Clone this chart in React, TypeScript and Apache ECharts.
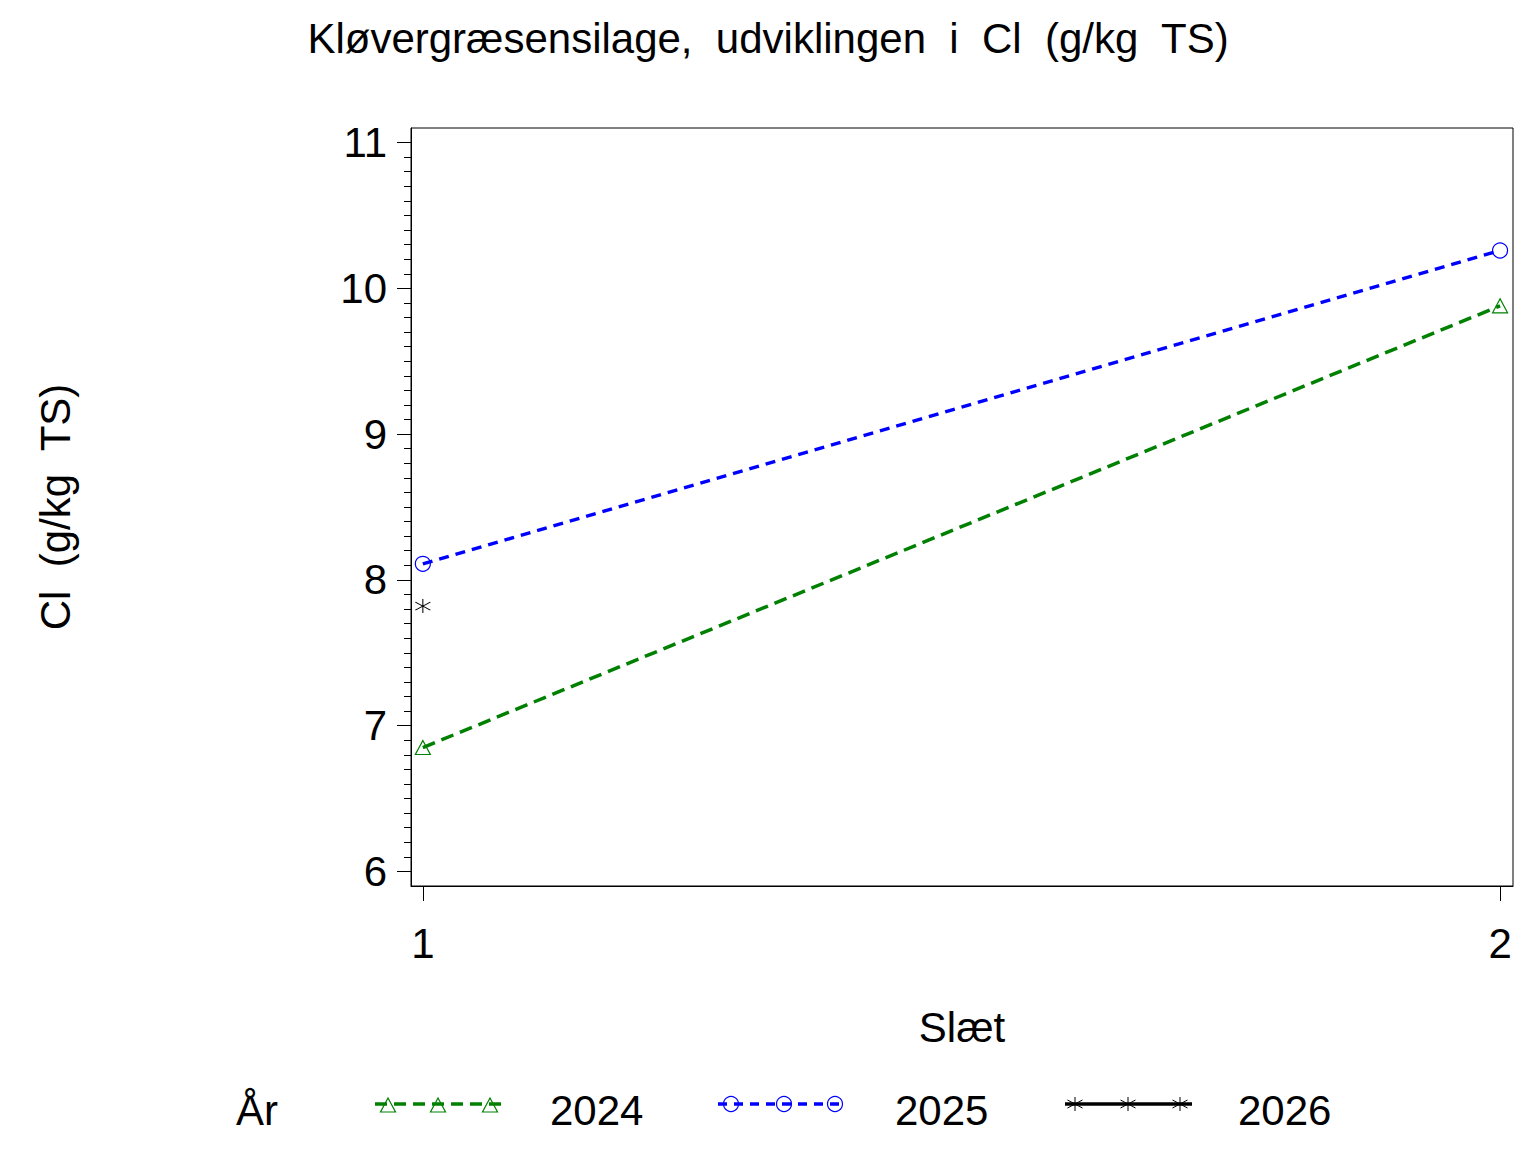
import React, { useEffect, useRef } from "react";
import * as echarts from "echarts";

const titleText = "Kløvergræsensilage,  udviklingen  i  Cl  (g/kg  TS)";
const yAxisName = "Cl  (g/kg  TS)";
const xAxisName = "Slæt";
const legendTitle = "År";

const slaet = [1, 2];
const years = ["2024", "2025", "2026"];
const values2024 = [6.85, 9.88];
const values2025 = [8.11, 10.26];
const values2026 = [7.82];
const yMajorTicks = [6, 7, 8, 9, 10, 11];
const xTicks = [1, 2];

const FONT = '"Liberation Sans", Arial, Helvetica, sans-serif';
const GREEN = "#008000";
const BLUE = "#0000ff";
const BLACK = "#000000";
const STAR = "path://M7.5,0 L7.5,14 M0,3 L15,11 M0,11 L15,3";

function minorTicks(): number[] {
  const out: number[] = [];
  for (let i = 0; i < yMajorTicks.length - 1; i++) {
    for (let k = 1; k < 10; k++) {
      out.push(Math.round((yMajorTicks[i] + k / 10) * 10) / 10);
    }
  }
  return out;
}

function legendGraphics() {
  const specs = [
    { x1: 375, x2: 502, marks: [388, 438, 490], textX: 550, color: GREEN, dash: [12, 7] as number[] | null, marker: "triangle" },
    { x1: 718, x2: 842, marks: [731, 784, 835], textX: 895, color: BLUE, dash: [9, 7] as number[] | null, marker: "circle" },
    { x1: 1065, x2: 1192, marks: [1075, 1128, 1180], textX: 1238, color: BLACK, dash: null, marker: "star" },
  ];
  const ly = 1104;
  const els: any[] = [
    {
      type: "text",
      left: 236,
      top: 1089,
      style: { text: legendTitle, font: `42px ${FONT}`, fill: BLACK },
    },
  ];
  specs.forEach((s, i) => {
    els.push({
      type: "line",
      shape: { x1: s.x1, y1: ly, x2: s.x2, y2: ly },
      style: { stroke: s.color, lineWidth: 3.5, lineDash: s.dash || undefined },
    });
    s.marks.forEach((mx) => {
      if (s.marker === "triangle") {
        els.push({
          type: "polygon",
          shape: { points: [[mx - 7.5, ly + 8], [mx + 7.5, ly + 8], [mx, ly - 6]] },
          style: { fill: "none", stroke: s.color, lineWidth: 1.2 },
        });
      } else if (s.marker === "circle") {
        els.push({
          type: "circle",
          shape: { cx: mx, cy: ly, r: 7.5 },
          style: { fill: "none", stroke: s.color, lineWidth: 1.2 },
        });
      } else {
        const segs = [
          [0, -7, 0, 7],
          [-7.5, -4, 7.5, 4],
          [-7.5, 4, 7.5, -4],
        ];
        segs.forEach((g) => {
          els.push({
            type: "line",
            shape: { x1: mx + g[0], y1: ly + g[1], x2: mx + g[2], y2: ly + g[3] },
            style: { stroke: s.color, lineWidth: 1 },
          });
        });
      }
    });
    els.push({
      type: "text",
      left: s.textX,
      top: 1089,
      style: { text: years[i], font: `42px ${FONT}`, fill: BLACK },
    });
  });
  return els;
}

export default function App() {
  const ref = useRef<HTMLDivElement>(null);
  useEffect(() => {
    const chart = echarts.init(ref.current!, null, { renderer: "svg" });
    const minors = minorTicks();
    const option: any = {
      animation: false,
      backgroundColor: "#ffffff",
      textStyle: { fontFamily: FONT },
      title: {
        text: titleText,
        left: "center",
        top: 12,
        textStyle: { fontSize: 42, fontWeight: "normal", color: BLACK, fontFamily: FONT },
      },
      grid: {
        left: 411,
        right: 23,
        top: 128,
        bottom: 266,
        show: true,
        borderColor: BLACK,
        borderWidth: 1,
        backgroundColor: "transparent",
      },
      xAxis: {
        type: "value",
        min: 0.989,
        max: 2.012,
        name: xAxisName,
        nameLocation: "middle",
        nameGap: 120,
        nameTextStyle: { fontSize: 42, color: BLACK, fontFamily: FONT },
        axisLine: { show: true, lineStyle: { color: BLACK, width: 1 } },
        axisTick: { show: true, length: 15, customValues: xTicks, lineStyle: { color: BLACK, width: 1 } },
        axisLabel: { show: true, customValues: xTicks, margin: 36, fontSize: 42, color: BLACK, fontFamily: FONT },
        splitLine: { show: false },
      },
      yAxis: [
        {
          type: "value",
          min: 5.9,
          max: 11.1,
          name: yAxisName,
          nameLocation: "middle",
          nameGap: 335,
          nameRotate: 90,
          nameTextStyle: { fontSize: 42, color: BLACK, fontFamily: FONT },
          axisLine: { show: true, lineStyle: { color: BLACK, width: 1 } },
          axisTick: { show: true, length: 14, customValues: yMajorTicks, lineStyle: { color: BLACK, width: 1 } },
          axisLabel: { show: true, customValues: yMajorTicks, margin: 24, fontSize: 42, color: BLACK, fontFamily: FONT },
          splitLine: { show: false },
        },
        {
          type: "value",
          min: 5.9,
          max: 11.1,
          position: "left",
          axisLine: { show: false },
          axisTick: { show: true, length: 7, customValues: minors, lineStyle: { color: BLACK, width: 1 } },
          axisLabel: { show: false },
          splitLine: { show: false },
        },
      ],
      series: [
        {
          name: years[0],
          type: "line",
          yAxisIndex: 0,
          data: slaet.map((x, i) => [x, values2024[i]]),
          symbol: "triangle",
          symbolSize: [15, 14],
          itemStyle: { color: "rgba(0,0,0,0)", borderColor: GREEN, borderWidth: 1.2 },
          lineStyle: { color: GREEN, width: 3.5, type: [13, 7] },
          z: 3,
        },
        {
          name: years[1],
          type: "line",
          yAxisIndex: 0,
          data: slaet.map((x, i) => [x, values2025[i]]),
          symbol: "circle",
          symbolSize: 15,
          itemStyle: { color: "rgba(0,0,0,0)", borderColor: BLUE, borderWidth: 1.2 },
          lineStyle: { color: BLUE, width: 3.5, type: [10, 7] },
          z: 4,
        },
        {
          name: years[2],
          type: "line",
          yAxisIndex: 0,
          data: values2026.map((v, i) => [slaet[i], v]),
          symbol: STAR,
          symbolSize: [15, 14],
          itemStyle: { color: "rgba(0,0,0,0)", borderColor: BLACK, borderWidth: 1 },
          lineStyle: { color: BLACK, width: 3.5 },
          z: 5,
        },
      ],
      graphic: legendGraphics(),
    };
    chart.setOption(option);
    return () => chart.dispose();
  }, []);
  return (
    <div
      ref={ref}
      style={{ position: "absolute", left: 0, top: 0, width: 1536, height: 1152, background: "#fff" }}
    />
  );
}
